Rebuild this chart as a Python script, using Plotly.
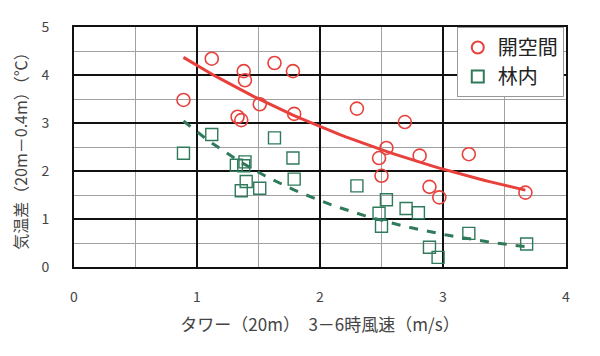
import numpy as np
import plotly.graph_objects as go

# 開空間 (open space)
open_x = [0.89, 1.12, 1.38, 1.39, 1.63, 1.78, 1.51, 1.33, 1.36, 1.79,
          2.30, 2.69, 2.54, 2.48, 2.81, 3.21, 2.50, 2.89, 2.97, 3.67]
open_y = [3.48, 4.34, 4.08, 3.89, 4.25, 4.08, 3.39, 3.13, 3.06, 3.19,
          3.30, 3.02, 2.48, 2.27, 2.32, 2.35, 1.90, 1.67, 1.45, 1.55]

# 林内 (in forest)
forest_x = [0.89, 1.12, 1.63, 1.39, 1.32, 1.38, 1.78, 1.40, 1.36, 1.51,
            1.79, 2.30, 2.54, 2.48, 2.50, 2.70, 2.80, 2.89, 2.96, 3.21, 3.68]
forest_y = [2.37, 2.76, 2.69, 2.19, 2.12, 2.11, 2.27, 1.78, 1.59, 1.64,
            1.83, 1.69, 1.40, 1.12, 0.85, 1.22, 1.13, 0.41, 0.20, 0.70, 0.48]

x_ticks = [0, 1, 2, 3, 4]
y_ticks = [0, 1, 2, 3, 4, 5]

RED = "#e8413c"
GREEN = "#2f7a5a"


def exp_fit(x, y):
    x = np.asarray(x, float)
    y = np.asarray(y, float)
    b, ln_a = np.polyfit(x, np.log(y), 1)
    xs = np.linspace(x.min(), x.max(), 60)
    return xs, np.exp(ln_a) * np.exp(b * xs)


fig = go.Figure()

ox, oy = exp_fit(open_x, open_y)
fx, fy = exp_fit(forest_x, forest_y)

fig.add_trace(go.Scatter(x=ox, y=oy, mode="lines", line=dict(color=RED, width=3),
                         showlegend=False, hoverinfo="skip"))
fig.add_trace(go.Scatter(x=fx, y=fy, mode="lines",
                         line=dict(color=GREEN, width=3, dash="dash"),
                         showlegend=False, hoverinfo="skip"))
fig.add_trace(go.Scatter(x=open_x, y=open_y, mode="markers", name="開空間",
                         marker=dict(symbol="circle-open", size=13, color=RED,
                                     line=dict(width=1.6, color=RED))))
fig.add_trace(go.Scatter(x=forest_x, y=forest_y, mode="markers", name="林内",
                         marker=dict(symbol="square-open", size=12, color=GREEN,
                                     line=dict(width=1.4, color=GREEN))))

font_family = "Noto Sans CJK JP, Noto Sans, sans-serif"

# page body has an 8px margin, so the figure is 592x348 placed at (8, 8)
fig.update_layout(
    width=592, height=348,
    margin=dict(l=66, r=34, t=19, b=89),
    paper_bgcolor="white", plot_bgcolor="white",
    font=dict(family=font_family, color="#333333", size=14),
    legend=dict(x=0.778, y=1.0, xanchor="left", yanchor="top",
                bgcolor="white", bordercolor="#999999", borderwidth=1,
                font=dict(size=20, color="#222222"),
                itemsizing="constant", tracegroupgap=10),
    xaxis=dict(range=[0, 4], tickvals=x_ticks, showgrid=True,
               gridcolor="#111111", gridwidth=1.5,
               minor=dict(dtick=0.5, showgrid=True, gridcolor="#a0a0a0", gridwidth=1),
               showline=True, linecolor="#111111", linewidth=2, mirror=True,
               zeroline=False, ticklabelstandoff=16, automargin=False,
               tickfont=dict(size=14, color="#444444"),
               title=dict(text="タワー（20m）　3－6時風速（m/s）",
                          font=dict(size=17, color="#444444"), standoff=14)),
    yaxis=dict(range=[0, 5], tickvals=y_ticks, showgrid=True,
               gridcolor="#111111", gridwidth=1.5,
               minor=dict(dtick=0.5, showgrid=True, gridcolor="#a0a0a0", gridwidth=1),
               showline=True, linecolor="#111111", linewidth=2, mirror=True,
               zeroline=False, ticklabelstandoff=20, automargin=False,
               tickfont=dict(size=14, color="#444444"),
               title=dict(text="気温差（20m－0.4m）（℃）",
                          font=dict(size=16, color="#444444"), standoff=12)),
)

fig.write_html("out.html")
